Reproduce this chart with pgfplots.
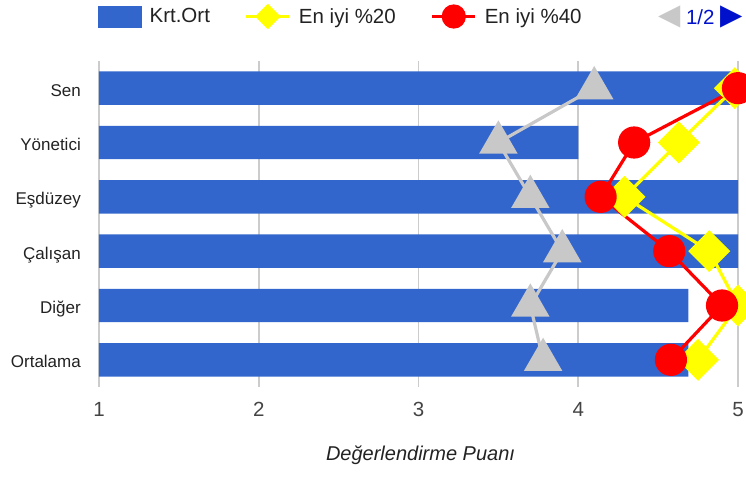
\documentclass[border=0pt]{standalone}
\usepackage{fontspec}
\setmainfont{Liberation Sans}
\newfontfamily\symfont{DejaVu Sans}
\usepackage{pgfplots}
\usepackage{pgfplotstable}
\pgfplotsset{compat=1.18}
\definecolor{barblue}{HTML}{3366CC}
\definecolor{gridgray}{HTML}{CCCCCC}
\definecolor{trigray}{HTML}{C8C8C8}
\definecolor{txt}{HTML}{222222}
\definecolor{ticktxt}{HTML}{444444}
\definecolor{pagerblue}{HTML}{0011CC}
\definecolor{myyellow}{HTML}{FFFF00}
\definecolor{myred}{HTML}{FF0000}

\pgfplotstableread{
idx bar gray top20 top40
5 5.00 4.10 4.98 5.00
4 4.00 3.50 4.63 4.35
3 5.00 3.70 4.29 4.14
2 5.00 3.90 4.82 4.57
1 4.69 3.70 5.00 4.90
0 4.69 3.78 4.75 4.58
}\data

\begin{document}
\begin{tikzpicture}
\useasboundingbox (-99pt,-91pt) rectangle (647pt,387pt);
\begin{axis}[
  scale only axis, width=639pt, height=326pt,
  xmin=1, xmax=5, ymin=-0.5, ymax=5.5,
  xtick={1,2,3,4,5}, ytick={0,1,2,3,4,5},
  yticklabels={Ortalama,Diğer,Çalışan,Eşdüzey,Yönetici,Sen},
  xmajorgrids, major grid style={gridgray, line width=1.8pt},
  major tick length=0pt,
  axis line style={draw=none},
  xbar, bar width=33.4pt,
  /pgf/number format/assume math mode=true,
  yticklabel style={anchor=base east, inner sep=0pt, xshift=-18pt, yshift=-8pt, font=\fontsize{17}{20}\selectfont, text=txt},
  xticklabel style={anchor=base, inner sep=0pt, yshift=-29.7pt, font=\fontsize{20.5}{24}\selectfont, text=ticktxt},
  xlabel={Değerlendirme Puanı},
  xlabel style={at={(axis description cs:0.5,0)}, anchor=base, inner sep=0pt, yshift=-73.7pt, xshift=2pt, font=\itshape\fontsize{20}{24}\selectfont, text=txt},
]
\addplot[fill=barblue, draw=none] table[x=bar, y=idx]{\data};
\end{axis}
\begin{axis}[
  scale only axis, width=639pt, height=326pt,
  xmin=1, xmax=5, ymin=-0.5, ymax=5.5,
  hide axis, clip=false,
  legend columns=-1,
  legend style={at={(axis description cs:0,1)}, anchor=west, xshift=-1pt, yshift=44.5pt,
    draw=none, fill=none, inner sep=0pt, font=\fontsize{20.5}{24}\selectfont, text=txt,
    nodes={inner sep=0pt},
    /tikz/every odd column/.style={column sep=8pt},
    /tikz/every even column/.style={column sep=35pt}},
]
\addlegendimage{legend image code/.code={\fill[barblue] (0pt,-10.5pt) rectangle (43pt,10.5pt);}}
\addlegendentry{Krt.Ort}
\addplot[trigray, line width=3.2pt, mark=triangle*, mark size=19pt, forget plot] table[x=gray, y=idx]{\data};
\addplot[myyellow, line width=3.2pt, mark=square*, mark size=13.2pt, mark options={rotate=45},
  legend image code/.code={\draw[line width=3pt] (0pt,0pt) -- (43pt,0pt); \fill (21.5pt,10.5pt) -- (32pt,0pt) -- (21.5pt,-10.5pt) -- (11pt,0pt) -- cycle;}]
  table[x=top20, y=idx]{\data};
\addlegendentry{En iyi \%20}
\addplot[myred, line width=3.2pt, mark=*, mark size=14.5pt,
  legend image code/.code={\draw[line width=3pt] (0pt,0pt) -- (43pt,0pt); \fill (21.5pt,0pt) circle (10.5pt);}]
  table[x=top40, y=idx]{\data};
\addlegendentry{En iyi \%40}
\end{axis}
\node[anchor=east, inner sep=0pt, font=\fontsize{20.5}{24}\selectfont] at (644pt,370.5pt)
  {{\symfont\fontsize{29}{30}\selectfont\color{trigray}◀}\hspace{5pt}{\color{pagerblue}1/2}\hspace{6pt}{\symfont\fontsize{29}{30}\selectfont\color{pagerblue}▶}};
\end{tikzpicture}
\end{document}
